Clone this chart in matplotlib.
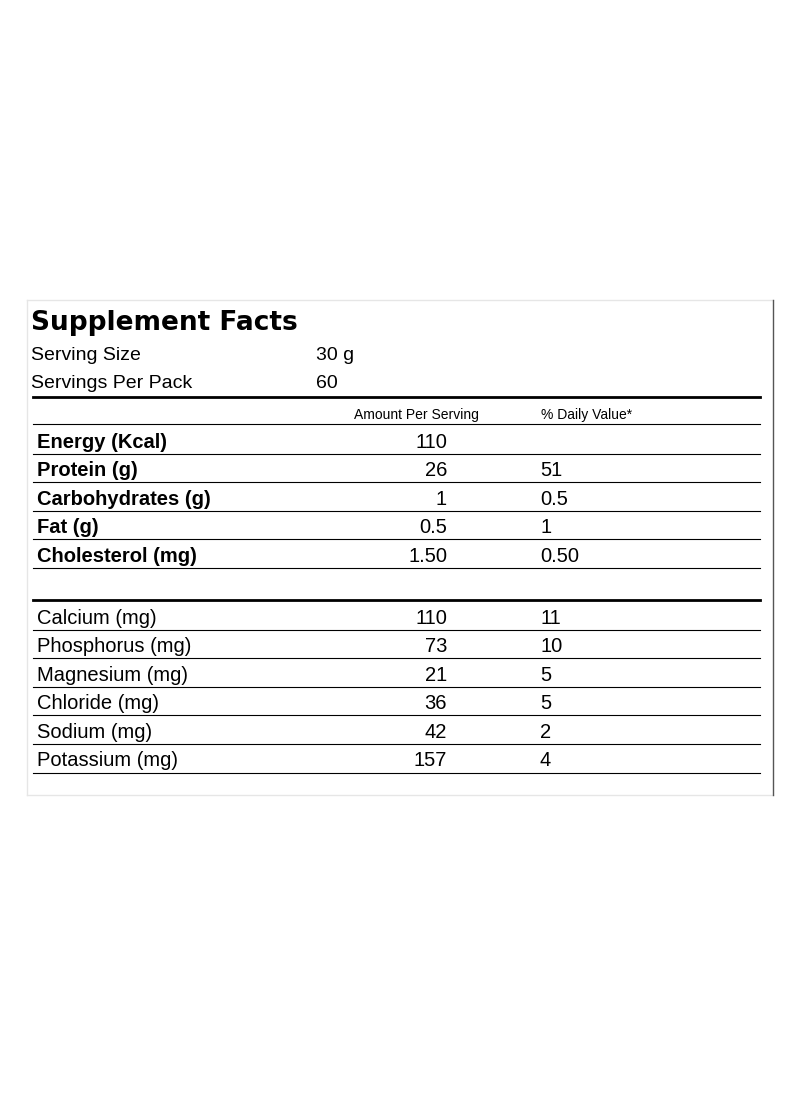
import matplotlib
matplotlib.use("Agg")
import matplotlib.pyplot as plt

title = "Supplement Facts"
serving = [("Serving Size", "30 g"), ("Servings Per Pack", "60")]
macro_names = ["Energy (Kcal)", "Protein (g)", "Carbohydrates (g)", "Fat (g)", "Cholesterol (mg)"]
macro_amount = ["110", "26", "1", "0.5", "1.50"]
macro_dv = ["", "51", "0.5", "1", "0.50"]
mineral_names = ["Calcium (mg)", "Phosphorus (mg)", "Magnesium (mg)", "Chloride (mg)", "Sodium (mg)", "Potassium (mg)"]
mineral_amount = ["110", "73", "21", "36", "42", "157"]
mineral_dv = ["11", "10", "5", "5", "2", "4"]

fig = plt.figure(figsize=(8, 10.96), dpi=100)
ax = fig.add_axes([0, 0, 1, 1])
ax.set_xlim(0, 800); ax.set_ylim(1096, 0); ax.axis("off")
F = "Liberation Sans"

ax.plot([27, 773], [300, 300], color="#e6e6e6", lw=1)
ax.plot([27, 773], [795, 795], color="#e6e6e6", lw=1)
ax.plot([27, 27], [300, 795], color="#e6e6e6", lw=1)
ax.plot([773, 773], [300, 795], color="#555555", lw=1)

ax.text(31, 323, title, fontsize=19, fontweight="heavy", family="DejaVu Sans", va="center")
for i, (k, v) in enumerate(serving):
    y = 355 + i * 29
    ax.text(31, y, k, fontsize=14, family=F, va="center")
    ax.text(316, y, v, fontsize=14, family=F, va="center")

ax.plot([33, 760], [397, 397], color="black", lw=2)
ax.text(416, 415, "Amount Per Serving", fontsize=10, family=F, va="center", ha="center")
ax.text(541, 415, "% Daily Value*", fontsize=10, family=F, va="center")

def rows(names, amts, dvs, y0, bold):
    for i, (n, a, d) in enumerate(zip(names, amts, dvs)):
        y = y0 + i * 28.6
        ax.text(37, y + 3, n, fontsize=14.5, family=F, va="center", fontweight="bold" if bold else "normal")
        ax.text(447, y + 3, a, fontsize=14.5, family=F, va="center", ha="right")
        ax.text(540, y + 3, d, fontsize=14.5, family=F, va="center")
        ax.plot([33, 760], [y + 14.5, y + 14.5], color="black", lw=0.8)

ax.plot([33, 760], [424, 424], color="black", lw=0.8)
rows(macro_names, macro_amount, macro_dv, 439, True)
rows(mineral_names, mineral_amount, mineral_dv, 615, False)
ax.plot([33, 760], [600, 600], color="black", lw=2)

fig.savefig("out.png", dpi=100, facecolor="white")
